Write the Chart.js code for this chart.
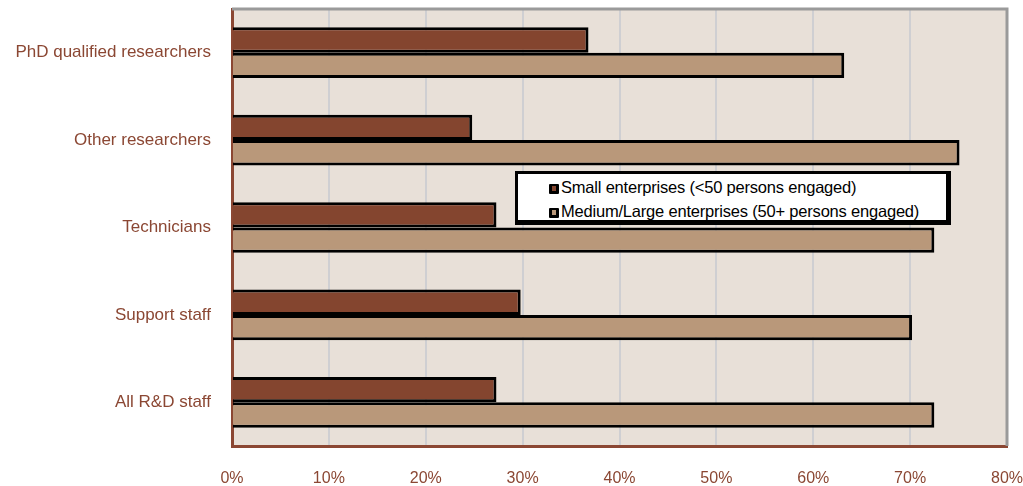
<!DOCTYPE html>
<html>
<head>
<meta charset="utf-8">
<script src="https://cdn.jsdelivr.net/npm/chart.js@4"></script>
<style>
  html, body { margin: 0; padding: 0; background: #fff; }
  #wrap { position: relative; width: 1023px; height: 486px; }
  #legendBox {
    position: absolute; left: 515px; top: 171px; width: 428px; height: 45px;
    background: #fff; border: 3px solid #000; border-right-width: 5px; border-bottom-width: 5px;
    font-family: "Liberation Sans", Arial, sans-serif; font-size: 16.5px; color: #000;
    padding-top: 1px; letter-spacing: -0.2px;
  }
  #legendBox div { height: 24px; line-height: 24px; padding-left: 31px; white-space: nowrap; }
  #legendBox span.sw {
    display: inline-block; width: 4px; height: 5px; border: 3px solid #000; border-width: 2px 3px 3px 3px; border-radius: 1px;
    margin-right: 2px; vertical-align: -1px;
  }
</style>
</head>
<body>
<div id="wrap">
  <canvas id="staffChart" width="1023" height="486"></canvas>
  <div id="legendBox"></div>
</div>
<script>
const categories = ['PhD qualified researchers', 'Other researchers', 'Technicians', 'Support staff', 'All R&D staff'];
const smallShare = [36.8, 24.8, 27.3, 29.8, 27.3];
const largeShare = [63.2, 75.1, 72.5, 70.2, 72.5];
const seriesNames = ['Small enterprises (<50 persons engaged)', 'Medium/Large enterprises (50+ persons engaged)'];
const xTicks = [0, 10, 20, 30, 40, 50, 60, 70, 80];

const darkBrown = '#84452f';
const lightBrown = '#b9987a';
const labelBrown = '#8b4733';

// plot background and the grey top/right frame
const frame = {
    id: 'frame',
    beforeDraw(chart) {
        const a = chart.chartArea, c = chart.ctx;
        c.save();
        c.fillStyle = '#e8e0d8';
        c.fillRect(a.left, a.top, a.right - a.left, a.bottom - a.top);
        c.restore();
    },
    afterDraw(chart) {
        const a = chart.chartArea, c = chart.ctx;
        c.save();
        c.strokeStyle = '#9a9a9a';
        c.lineWidth = 3;
        c.beginPath();
        c.moveTo(a.left, a.top);
        c.lineTo(a.right, a.top);
        c.lineTo(a.right, a.bottom);
        c.stroke();
        c.restore();
    }
};

new Chart(document.getElementById('staffChart'), {
    type: 'bar',
    data: {
        labels: categories,
        datasets: [
            { label: seriesNames[0], data: smallShare, backgroundColor: darkBrown, borderColor: '#000', borderWidth: 3, borderSkipped: 'start' },
            { label: seriesNames[1], data: largeShare, backgroundColor: lightBrown, borderColor: '#000', borderWidth: 3, borderSkipped: 'start' }
        ]
    },
    options: {
        indexAxis: 'y',
        responsive: false,
        animation: false,
        layout: { padding: { left: 0, right: 16, top: 9, bottom: 0 } },
        datasets: { bar: { categoryPercentage: 0.58, barPercentage: 1.0 } },
        plugins: { legend: { display: false }, tooltip: { enabled: false } },
        scales: {
            x: {
                min: 0, max: 80,
                afterBuildTicks: s => { s.ticks = xTicks.map(v => ({ value: v })); },
                ticks: { callback: v => v + '%', color: labelBrown, font: { family: 'Liberation Sans', size: 16 }, padding: 23, maxRotation: 0 },
                grid: { color: '#cfcfd2', lineWidth: 2, drawTicks: false },
                border: { color: labelBrown, width: 3 },
                afterFit: s => { s.height = 40; s.paddingLeft = 0; s.paddingRight = 0; }
            },
            y: {
                ticks: { color: labelBrown, font: { family: 'Liberation Sans', size: 17 }, padding: 21 },
                grid: { display: false, drawTicks: false },
                border: { color: labelBrown, width: 3 },
                afterFit: s => { s.width = 232; s.paddingTop = 0; s.paddingBottom = 0; }
            }
        }
    },
    plugins: [frame]
});

// legend box drawn over the plot
const box = document.getElementById('legendBox');
[darkBrown, lightBrown].forEach((col, i) => {
    const row = document.createElement('div');
    const sw = document.createElement('span');
    sw.className = 'sw';
    sw.style.background = col;
    row.appendChild(sw);
    row.appendChild(document.createTextNode(seriesNames[i]));
    box.appendChild(row);
});
</script>
</body>
</html>
